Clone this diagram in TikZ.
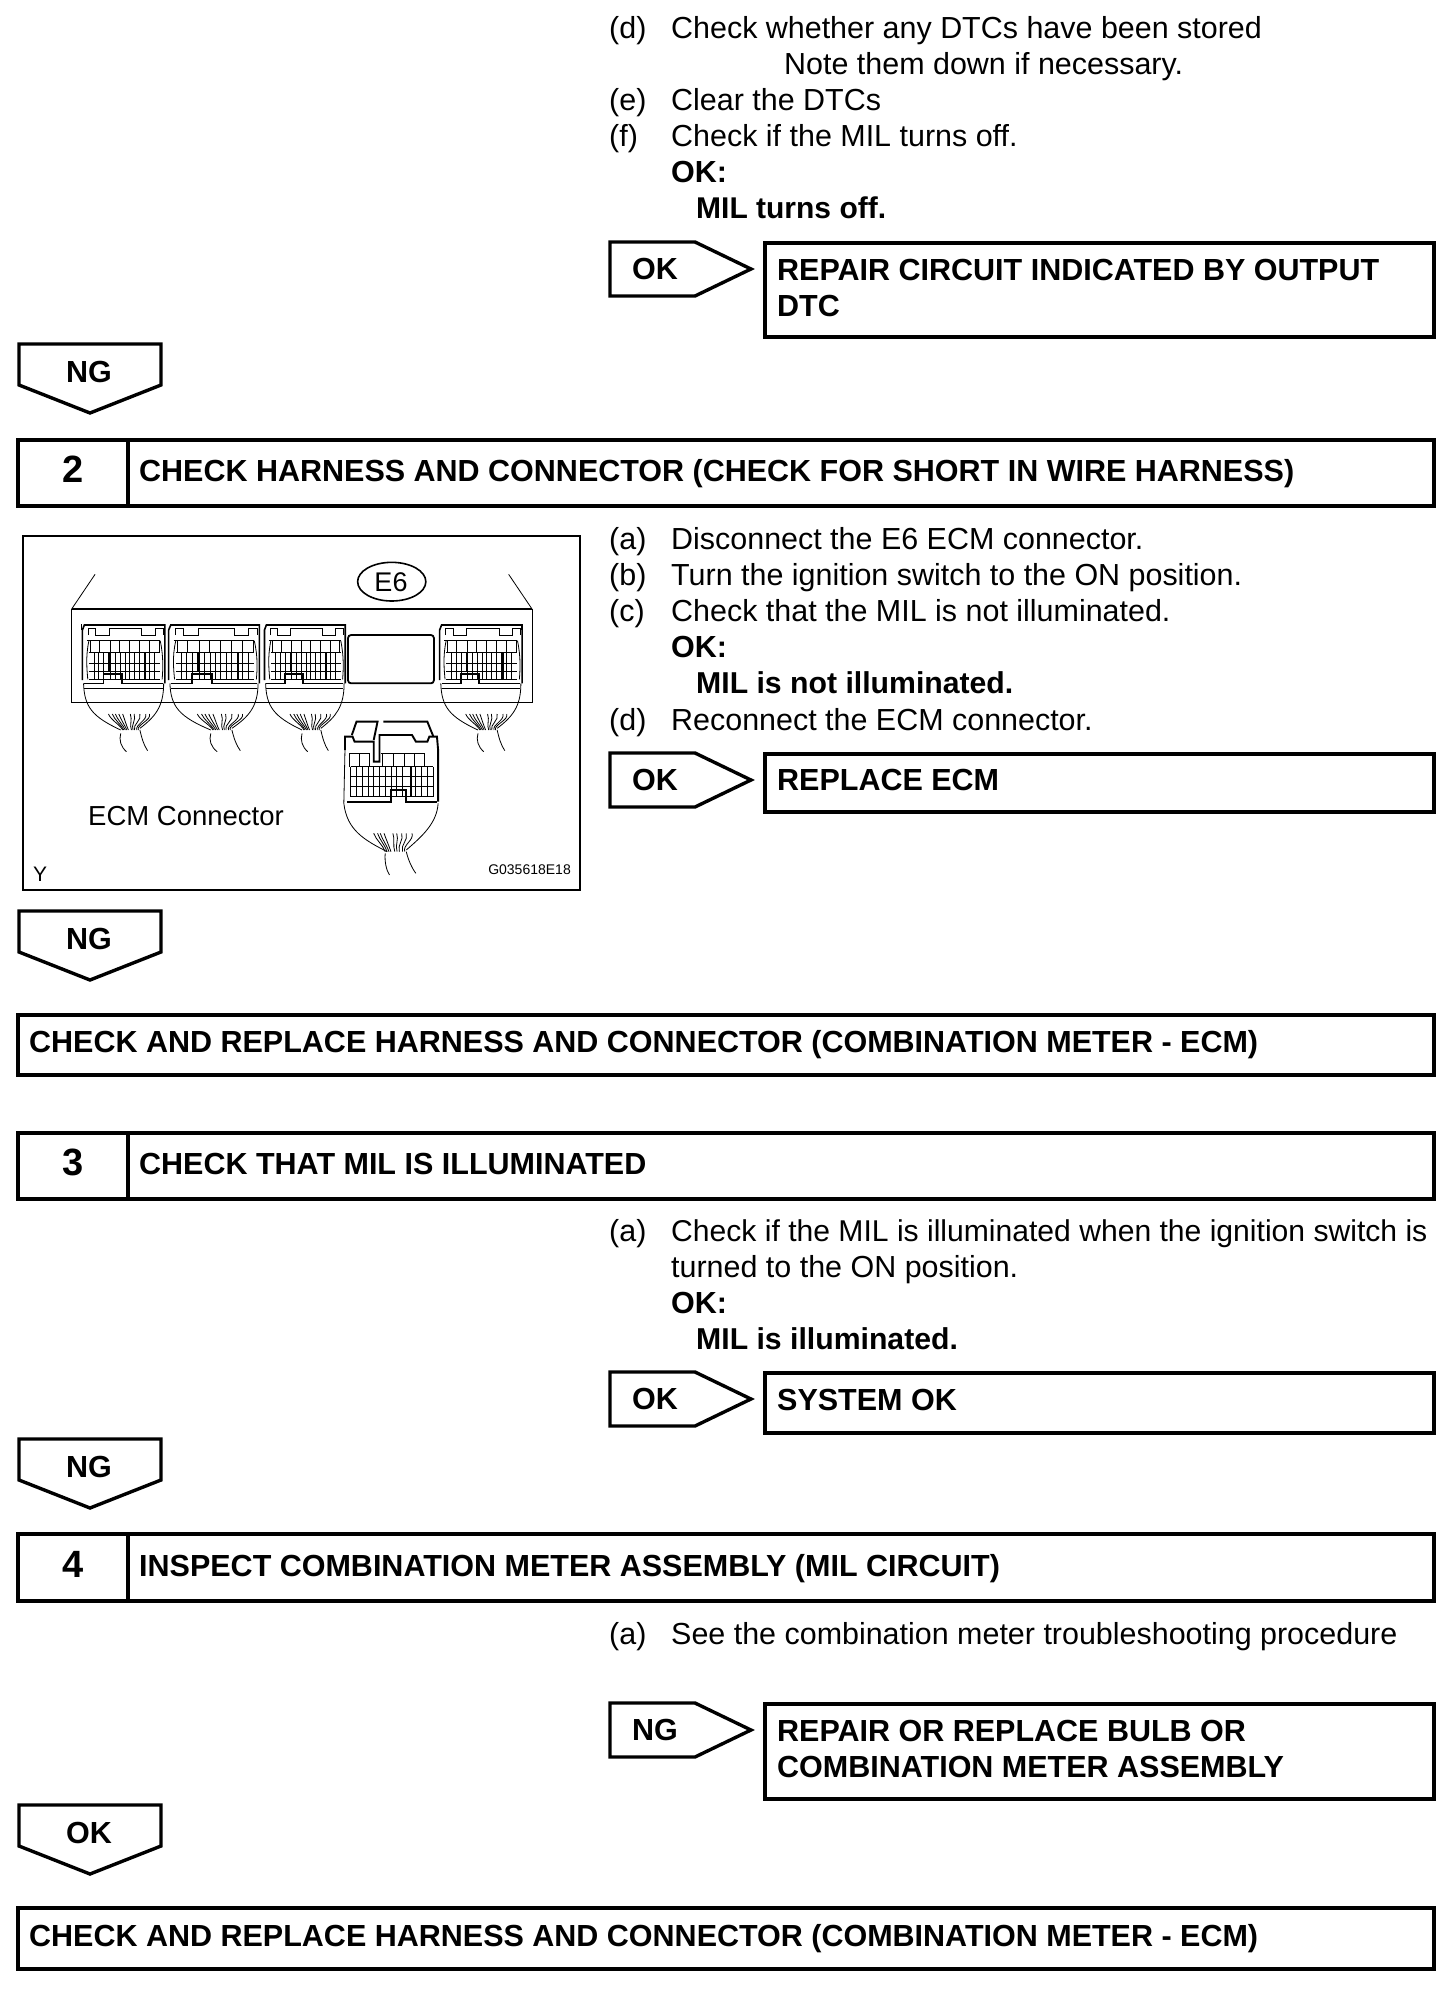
\documentclass[tikz,border=0pt]{standalone}
\usepackage{fontspec}
\setmainfont{Liberation Sans}
\newcommand{\bodyfont}{\fontsize{30.45}{36}\selectfont}
\newcommand{\headfont}{\fontsize{30.5}{36}\selectfont\bfseries}
\tikzset{
  heavy/.style={line width=3.4pt,black,line join=miter},
  fine/.style={line width=0.8pt,black},
  medium/.style={line width=1.6pt,black},
  bodytext/.style={anchor=base west,inner sep=0pt,font=\bodyfont},
  boldtext/.style={anchor=base west,inner sep=0pt,font=\headfont},
  numtext/.style={anchor=base,inner sep=0pt,font=\fontsize{38}{40}\selectfont\bfseries},
}
% arrow pointing right: top y
\newcommand{\rarrow}[3]{%
  \draw[heavy] (610,#1) -- (695,#1) -- (751,#1+27) -- (695,#1+54) -- (610,#1+54) -- cycle;
  \node[boldtext] (#2) at (632,#1+37) {#3};}
% arrow pointing down: top y
\newcommand{\darrow}[3]{%
  \draw[heavy] (19,#1) -- (161,#1) -- (161,#1+41) -- (90,#1+69) -- (19,#1+41) -- cycle;
  \node[boldtext,anchor=base] (#2) at (89,#1+38) {#3};}
% numbered step bar: top, bottom
\newcommand{\stepbar}[5]{%
  \draw[heavy] (18,#1) rectangle (1434,#2);
  \draw[heavy] (128,#1) -- (128,#2);
  \node[numtext] (#3) at (73,#2-24) {#4};
  \node[boldtext] (#3t) at (139,#2-25) {#5};}
% ECM connector in zoom coordinates
\newcommand{\ecmc}[2]{%
  \begin{scope}[shift={(#1*0.3833pt,0pt)},xscale=#2]
    \draw[medium] (0,480) -- (0,330) -- (5,315) -- (215,315) -- (215,490);
    \draw[fine] (15,345) -- (15,325) -- (35,325) -- (35,345) -- (70,345) -- (70,325) -- (155,325) -- (155,345) -- (190,345) -- (190,325) -- (210,325) -- (210,345);
    \draw[fine] (12,362) -- (203,362);
    \foreach \gx in {20,45,72,97,123,148,175,200} {\draw[fine] (\gx,362) -- (\gx,398);}
    \foreach \gy in {398,430,455,478} {\draw[fine] (17,\gy) -- (203,\gy);}
    \foreach \gx in {30,43,56,72,85,98,111,123,136,149,162,175,188} {\draw[fine] (\gx,398) -- (\gx,478);}
    \draw[medium] (70,398) -- (70,455);
    \draw[medium] (165,398) -- (165,478);
    \draw[fine] (17,362) .. controls (8,410) and (12,450) .. (14,478);
    \draw[fine] (203,362) .. controls (212,410) and (210,450) .. (208,478);
    \draw[medium] (5,490) -- (55,490) -- (55,462) -- (103,462) -- (103,490) -- (210,490);
    \draw[fine] (5,505) -- (210,505);
    \draw[fine] (3,490) .. controls (5,560) and (25,590) .. (100,630);
    \draw[fine] (212,490) .. controls (212,560) and (190,590) .. (150,625);
    \draw[fine] (100,640) .. controls (95,660) and (100,680) .. (115,695);
    \draw[fine] (150,630) .. controls (155,655) and (160,675) .. (170,692);
    \foreach \wa/\wb in {68/105,78/108,86/112,95/116,105/120,125/128,135/132,150/136,165/142,175/146} {
      \draw[fine] (\wa,582) .. controls (\wa+6,600) and (\wb-6,615) .. (\wb,630);}
  \end{scope}}
\begin{document}
\begin{tikzpicture}[x=1pt,y=-1pt]
\useasboundingbox (0,0) rectangle (1456,1990);
\fill[white] (0,0) rectangle (1456,1990);

% ---- section 1 text
\node[bodytext] (da) at (609,38) {(d)};
\node[bodytext] (dat) at (671,38) {Check whether any DTCs have been stored};
\node[bodytext] (dan) at (784,74) {Note them down if necessary.};
\node[bodytext] (ea) at (609,110) {(e)};
\node[bodytext] (eat) at (671,110) {Clear the DTCs};
\node[bodytext] (fa) at (609,146) {(f)};
\node[bodytext] (fat) at (671,146) {Check if the MIL turns off.};
\node[boldtext] (oka) at (671,182) {OK:};
\node[boldtext,font=\fontsize{30}{36}\selectfont\bfseries] (okb) at (696,218) {MIL turns off.};

\rarrow{242}{arrA}{OK}
\draw[heavy] (765,243) rectangle (1434,337);
\node[boldtext] (repA) at (777,280) {REPAIR CIRCUIT INDICATED BY OUTPUT};
\node[boldtext] (repB) at (777,316) {DTC};

\darrow{344}{ngA}{NG}
\stepbar{440}{506}{stepB}{2}{CHECK HARNESS AND CONNECTOR (CHECK FOR SHORT IN WIRE HARNESS)}

% ---- figure
\draw[line width=1.5pt] (23,536) rectangle (580,890);
\begin{scope}[shift={(0pt,-520pt)},x=0.3833pt,y=-0.33333pt]
  \draw[line width=1.6pt] (187,267) -- (1388,267);
  \draw[fine] (187,267) -- (187,547) -- (1388,547) -- (1388,267);
  \draw[fine] (187,267) -- (248,163);
  \draw[fine] (1388,267) -- (1327,163);
  \draw[fine] (213,313) -- (213,330);
  \draw[fine] (1360,313) -- (1360,330);
  \ecmc{215}{1}
  \ecmc{440}{1.1}
  \ecmc{690}{0.98}
  \ecmc{1147}{1}
  \draw[fill=white,line width=1.8pt,rounded corners=3pt] (908,345) rectangle (1132,490);
  \draw[line width=1.6pt,fill=white] (1022,185) ellipse [x radius=89,y radius=58];
  % loose connector
  \draw[line width=1.9pt] (918,645) -- (930,605) -- (985,605) -- (975,660);
  \draw[line width=1.9pt] (1000,605) -- (1115,605) -- (1130,648);
  \draw[line width=1.9pt] (900,690) -- (900,650) -- (920,650) -- (925,665) -- (975,665) -- (975,725) -- (990,725) -- (990,645) -- (1075,645) -- (1085,665) -- (1115,665) -- (1120,650) -- (1140,650) -- (1143,690) -- (1143,845);
  \draw[fine] (900,690) -- (897,850);
  \draw[fine] (912,700) -- (965,700);
  \draw[fine] (995,700) -- (1110,700);
  \foreach \gx in {912,938,965,997,1027,1055,1082,1108} {\draw[fine] (\gx,700) -- (\gx,740);}
  \foreach \gy in {740,770,800,830} {\draw[fine] (915,\gy) -- (1130,\gy);}
  \foreach \gx in {915,930,945,960,975,990,1005,1020,1035,1050,1070,1085,1100,1115,1130} {\draw[fine] (\gx,740) -- (\gx,830);}
  \draw[line width=1.9pt] (1072,740) -- (1072,830);
  \draw[line width=1.9pt] (905,845) -- (1020,845) -- (1020,810) -- (1060,810) -- (1060,845) -- (1140,845);
  \draw[fine] (897,850) .. controls (905,930) and (950,960) .. (1010,995);
  \draw[fine] (1143,850) .. controls (1140,910) and (1100,950) .. (1060,990);
  \draw[fine] (1005,1000) .. controls (1003,1025) and (1008,1050) .. (1016,1065);
  \draw[fine] (1060,995) .. controls (1065,1020) and (1075,1045) .. (1085,1060);
  \foreach \wa/\wb in {975/1005,985/1010,992/1015,1002/1020,1025/1030,1035/1036,1048/1042,1060/1050,1075/1056} {
    \draw[fine] (\wa,940) .. controls (\wa+6,960) and (\wb-6,975) .. (\wb,995);}
\end{scope}
\node[inner sep=0pt,anchor=center,font=\fontsize{27}{30}\selectfont] (eLabel) at (391,582) {E6};
\node[bodytext,font=\fontsize{27.5}{30}\selectfont] (ecmLabel) at (88,825) {ECM Connector};
\node[bodytext,font=\fontsize{21}{24}\selectfont] (yLabel) at (33,881) {Y};
\node[bodytext,anchor=base east,font=\fontsize{14}{16}\selectfont] (codeLabel) at (571,874) {G035618E18};

% ---- section 2 text
\node[bodytext] (sa) at (609,549) {(a)};
\node[bodytext] (sat) at (671,549) {Disconnect the E6 ECM connector.};
\node[bodytext] (sb) at (609,585) {(b)};
\node[bodytext] (sbt) at (671,585) {Turn the ignition switch to the ON position.};
\node[bodytext] (sc) at (609,621) {(c)};
\node[bodytext] (sct) at (671,621) {Check that the MIL is not illuminated.};
\node[boldtext] (sok) at (671,657) {OK:};
\node[boldtext,font=\fontsize{30.2}{36}\selectfont\bfseries] (sokb) at (696,693) {MIL is not illuminated.};
\node[bodytext] (sd) at (609,730) {(d)};
\node[bodytext] (sdt) at (671,730) {Reconnect the ECM connector.};

\rarrow{753}{arrB}{OK}
\draw[heavy] (765,754) rectangle (1434,812);
\node[boldtext] (repC) at (777,790) {REPLACE ECM};

\darrow{911}{ngB}{NG}
\draw[heavy] (18,1015) rectangle (1434,1075);
\node[boldtext] (chkA) at (29,1052) {CHECK AND REPLACE HARNESS AND CONNECTOR (COMBINATION METER - ECM)};

\stepbar{1133}{1199}{stepC}{3}{CHECK THAT MIL IS ILLUMINATED}

% ---- section 3 text
\node[bodytext] (ta) at (609,1241) {(a)};
\node[bodytext,font=\fontsize{30.1}{36}\selectfont] (tat) at (671,1241) {Check if the MIL is illuminated when the ignition switch is};
\node[bodytext] (tatb) at (671,1277) {turned to the ON position.};
\node[boldtext] (tok) at (671,1313) {OK:};
\node[boldtext,font=\fontsize{30.2}{36}\selectfont\bfseries] (tokb) at (696,1349) {MIL is illuminated.};

\rarrow{1372}{arrC}{OK}
\draw[heavy] (765,1373) rectangle (1434,1433);
\node[boldtext] (repD) at (777,1410) {SYSTEM OK};

\darrow{1439}{ngC}{NG}
\stepbar{1534}{1601}{stepD}{4}{INSPECT COMBINATION METER ASSEMBLY (MIL CIRCUIT)}

% ---- section 4 text
\node[bodytext] (ua) at (609,1644) {(a)};
\node[bodytext] (uat) at (671,1644) {See the combination meter troubleshooting procedure};

\rarrow{1703}{arrD}{NG}
\draw[heavy] (765,1704) rectangle (1434,1799);
\node[boldtext] (repE) at (777,1741) {REPAIR OR REPLACE BULB OR};
\node[boldtext] (repF) at (777,1777) {COMBINATION METER ASSEMBLY};

\darrow{1805}{okD}{OK}
\draw[heavy] (18,1908) rectangle (1434,1969);
\node[boldtext] (chkB) at (29,1946) {CHECK AND REPLACE HARNESS AND CONNECTOR (COMBINATION METER - ECM)};
\end{tikzpicture}
\end{document}
